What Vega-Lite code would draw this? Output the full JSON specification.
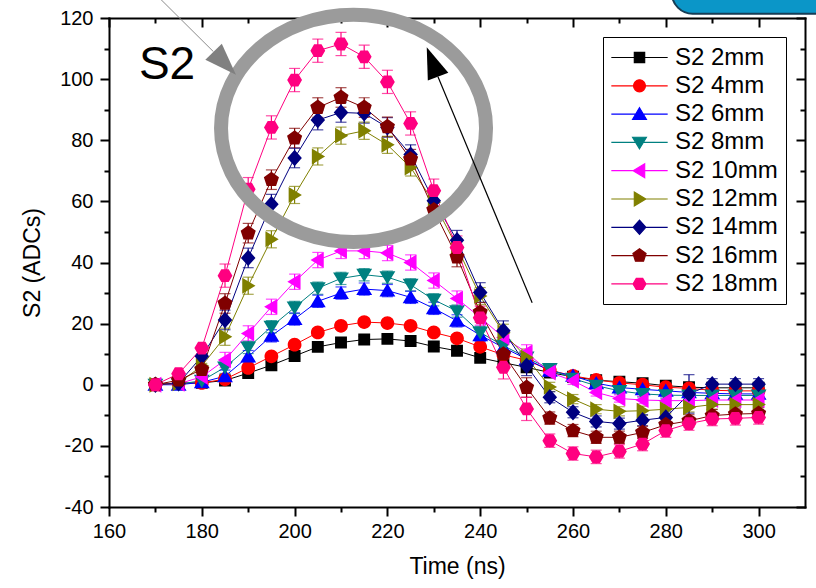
{
  "$schema": "https://vega.github.io/schema/vega-lite/v6.json",
  "width": 696,
  "height": 489,
  "autosize": {"type": "none"},
  "padding": {"left": 109, "top": 18, "right": 11, "bottom": 81},
  "background": "white",
  "config": {
    "view": {"stroke": null},
    "font": "Liberation Sans",
    "axis": {
      "domainColor": "black", "domainWidth": 2, "domainCap": "square",
      "tickColor": "black", "tickWidth": 2, "grid": false,
      "labelFont": "Liberation Sans", "labelFontSize": 20, "labelColor": "black", "labelFlush": false,
      "labelExpr": "datum.value < 0 ? '-' + abs(datum.value) : '' + datum.value",
      "titleFont": "Liberation Sans", "titleFontSize": 23, "titleFontWeight": "normal", "titleColor": "black"
    }
  },
  "datasets": {
    "s2": [
      {"t":170,"s":"S2 2mm","v":0.2,"e":0.6},{"t":175,"s":"S2 2mm","v":0.5,"e":0.6},{"t":180,"s":"S2 2mm","v":0.6,"e":0.8},
      {"t":185,"s":"S2 2mm","v":1.4,"e":1.0},{"t":190,"s":"S2 2mm","v":3.8,"e":1.0},{"t":195,"s":"S2 2mm","v":6.4,"e":1.0},
      {"t":200,"s":"S2 2mm","v":9.4,"e":1.0},{"t":205,"s":"S2 2mm","v":12.4,"e":1.0},{"t":210,"s":"S2 2mm","v":13.8,"e":1.0},
      {"t":215,"s":"S2 2mm","v":14.8,"e":1.0},{"t":220,"s":"S2 2mm","v":15.0,"e":1.0},{"t":225,"s":"S2 2mm","v":14.3,"e":1.0},
      {"t":230,"s":"S2 2mm","v":12.5,"e":1.0},{"t":235,"s":"S2 2mm","v":11.1,"e":1.0},{"t":240,"s":"S2 2mm","v":8.8,"e":1.0},
      {"t":245,"s":"S2 2mm","v":7.2,"e":1.0},{"t":250,"s":"S2 2mm","v":5.7,"e":1.0},{"t":255,"s":"S2 2mm","v":4.0,"e":0.8},
      {"t":260,"s":"S2 2mm","v":2.6,"e":0.8},{"t":265,"s":"S2 2mm","v":1.5,"e":0.8},{"t":270,"s":"S2 2mm","v":1.0,"e":0.8},
      {"t":275,"s":"S2 2mm","v":0.5,"e":0.8},{"t":280,"s":"S2 2mm","v":-0.3,"e":0.8},{"t":285,"s":"S2 2mm","v":-0.8,"e":0.8},
      {"t":290,"s":"S2 2mm","v":-1.0,"e":0.8},{"t":295,"s":"S2 2mm","v":-1.0,"e":0.8},{"t":300,"s":"S2 2mm","v":-1.0,"e":0.8},

      {"t":170,"s":"S2 4mm","v":0.1,"e":0.6},{"t":175,"s":"S2 4mm","v":0.5,"e":0.6},{"t":180,"s":"S2 4mm","v":0.6,"e":0.8},
      {"t":185,"s":"S2 4mm","v":1.8,"e":1.2},{"t":190,"s":"S2 4mm","v":5.5,"e":1.2},{"t":195,"s":"S2 4mm","v":9.3,"e":1.2},
      {"t":200,"s":"S2 4mm","v":13.1,"e":1.2},{"t":205,"s":"S2 4mm","v":17.1,"e":1.2},{"t":210,"s":"S2 4mm","v":19.3,"e":1.2},
      {"t":215,"s":"S2 4mm","v":20.5,"e":1.2},{"t":220,"s":"S2 4mm","v":20.2,"e":1.2},{"t":225,"s":"S2 4mm","v":19.3,"e":1.2},
      {"t":230,"s":"S2 4mm","v":17.1,"e":1.2},{"t":235,"s":"S2 4mm","v":15.2,"e":1.2},{"t":240,"s":"S2 4mm","v":12.4,"e":1.2},
      {"t":245,"s":"S2 4mm","v":9.8,"e":1.2},{"t":250,"s":"S2 4mm","v":8.0,"e":1.2},{"t":255,"s":"S2 4mm","v":4.8,"e":0.8},
      {"t":260,"s":"S2 4mm","v":2.9,"e":0.8},{"t":265,"s":"S2 4mm","v":1.6,"e":0.8},{"t":270,"s":"S2 4mm","v":0.6,"e":0.8},
      {"t":275,"s":"S2 4mm","v":0.0,"e":0.8},{"t":280,"s":"S2 4mm","v":-0.8,"e":0.8},{"t":285,"s":"S2 4mm","v":-1.2,"e":0.8},
      {"t":290,"s":"S2 4mm","v":-1.8,"e":0.8},{"t":295,"s":"S2 4mm","v":-2.0,"e":0.8},{"t":300,"s":"S2 4mm","v":-2.0,"e":0.8},

      {"t":170,"s":"S2 6mm","v":0.0,"e":0.6},{"t":175,"s":"S2 6mm","v":0.0,"e":0.6},{"t":180,"s":"S2 6mm","v":0.8,"e":0.8},
      {"t":185,"s":"S2 6mm","v":2.8,"e":2.0},{"t":190,"s":"S2 6mm","v":9.2,"e":2.0},{"t":195,"s":"S2 6mm","v":16.0,"e":2.0},
      {"t":200,"s":"S2 6mm","v":21.5,"e":2.0},{"t":205,"s":"S2 6mm","v":27.3,"e":2.0},{"t":210,"s":"S2 6mm","v":30.0,"e":2.0},
      {"t":215,"s":"S2 6mm","v":31.3,"e":2.0},{"t":220,"s":"S2 6mm","v":30.8,"e":2.0},{"t":225,"s":"S2 6mm","v":28.6,"e":2.0},
      {"t":230,"s":"S2 6mm","v":25.0,"e":2.0},{"t":235,"s":"S2 6mm","v":20.9,"e":2.0},{"t":240,"s":"S2 6mm","v":16.2,"e":2.0},
      {"t":245,"s":"S2 6mm","v":12.2,"e":2.0},{"t":250,"s":"S2 6mm","v":8.4,"e":2.0},{"t":255,"s":"S2 6mm","v":4.6,"e":1.0},
      {"t":260,"s":"S2 6mm","v":2.9,"e":1.0},{"t":265,"s":"S2 6mm","v":0.5,"e":1.0},{"t":270,"s":"S2 6mm","v":-0.9,"e":1.0},
      {"t":275,"s":"S2 6mm","v":-1.5,"e":1.0},{"t":280,"s":"S2 6mm","v":-2.0,"e":1.0},{"t":285,"s":"S2 6mm","v":-2.5,"e":1.0},
      {"t":290,"s":"S2 6mm","v":-2.8,"e":1.0},{"t":295,"s":"S2 6mm","v":-3.0,"e":1.0},{"t":300,"s":"S2 6mm","v":-3.0,"e":1.0},

      {"t":170,"s":"S2 8mm","v":0.0,"e":0.6},{"t":175,"s":"S2 8mm","v":0.2,"e":0.6},{"t":180,"s":"S2 8mm","v":1.3,"e":0.8},
      {"t":185,"s":"S2 8mm","v":5.7,"e":2.0},{"t":190,"s":"S2 8mm","v":12.2,"e":2.0},{"t":195,"s":"S2 8mm","v":19.0,"e":2.0},
      {"t":200,"s":"S2 8mm","v":25.3,"e":2.0},{"t":205,"s":"S2 8mm","v":31.6,"e":2.0},{"t":210,"s":"S2 8mm","v":34.8,"e":2.0},
      {"t":215,"s":"S2 8mm","v":36.0,"e":2.0},{"t":220,"s":"S2 8mm","v":35.2,"e":2.0},{"t":225,"s":"S2 8mm","v":32.7,"e":2.0},
      {"t":230,"s":"S2 8mm","v":27.8,"e":2.0},{"t":235,"s":"S2 8mm","v":24.1,"e":2.0},{"t":240,"s":"S2 8mm","v":17.1,"e":2.0},
      {"t":245,"s":"S2 8mm","v":12.8,"e":2.0},{"t":250,"s":"S2 8mm","v":8.9,"e":2.0},{"t":255,"s":"S2 8mm","v":5.2,"e":1.0},
      {"t":260,"s":"S2 8mm","v":2.0,"e":1.0},{"t":265,"s":"S2 8mm","v":-0.3,"e":1.0},{"t":270,"s":"S2 8mm","v":-2.0,"e":1.0},
      {"t":275,"s":"S2 8mm","v":-3.0,"e":1.0},{"t":280,"s":"S2 8mm","v":-3.4,"e":1.0},{"t":285,"s":"S2 8mm","v":-3.5,"e":1.0},
      {"t":290,"s":"S2 8mm","v":-3.5,"e":1.0},{"t":295,"s":"S2 8mm","v":-3.5,"e":1.0},{"t":300,"s":"S2 8mm","v":-3.5,"e":1.0},

      {"t":170,"s":"S2 10mm","v":0.0,"e":0.6},{"t":175,"s":"S2 10mm","v":0.3,"e":0.6},{"t":180,"s":"S2 10mm","v":2.6,"e":0.8},
      {"t":185,"s":"S2 10mm","v":8.1,"e":2.5},{"t":190,"s":"S2 10mm","v":16.8,"e":2.5},{"t":195,"s":"S2 10mm","v":25.5,"e":2.5},
      {"t":200,"s":"S2 10mm","v":33.7,"e":2.5},{"t":205,"s":"S2 10mm","v":40.8,"e":2.5},{"t":210,"s":"S2 10mm","v":43.8,"e":2.5},
      {"t":215,"s":"S2 10mm","v":43.8,"e":2.5},{"t":220,"s":"S2 10mm","v":43.1,"e":2.5},{"t":225,"s":"S2 10mm","v":40.0,"e":2.5},
      {"t":230,"s":"S2 10mm","v":34.1,"e":2.5},{"t":235,"s":"S2 10mm","v":28.2,"e":2.5},{"t":240,"s":"S2 10mm","v":22.0,"e":2.5},
      {"t":245,"s":"S2 10mm","v":15.5,"e":2.5},{"t":250,"s":"S2 10mm","v":10.6,"e":2.5},{"t":255,"s":"S2 10mm","v":4.0,"e":1.2},
      {"t":260,"s":"S2 10mm","v":1.3,"e":1.2},{"t":265,"s":"S2 10mm","v":-2.5,"e":1.2},{"t":270,"s":"S2 10mm","v":-4.5,"e":1.2},
      {"t":275,"s":"S2 10mm","v":-5.0,"e":1.2},{"t":280,"s":"S2 10mm","v":-5.2,"e":1.2},{"t":285,"s":"S2 10mm","v":-5.2,"e":1.2},
      {"t":290,"s":"S2 10mm","v":-5.0,"e":1.2},{"t":295,"s":"S2 10mm","v":-5.0,"e":1.2},{"t":300,"s":"S2 10mm","v":-5.0,"e":1.2},

      {"t":170,"s":"S2 12mm","v":0.0,"e":0.6},{"t":175,"s":"S2 12mm","v":0.5,"e":0.6},{"t":180,"s":"S2 12mm","v":6.2,"e":0.8},
      {"t":185,"s":"S2 12mm","v":15.7,"e":2.8},{"t":190,"s":"S2 12mm","v":32.4,"e":2.8},{"t":195,"s":"S2 12mm","v":47.6,"e":2.8},
      {"t":200,"s":"S2 12mm","v":62.1,"e":2.8},{"t":205,"s":"S2 12mm","v":74.7,"e":2.8},{"t":210,"s":"S2 12mm","v":81.5,"e":2.8},
      {"t":215,"s":"S2 12mm","v":83.1,"e":2.8},{"t":220,"s":"S2 12mm","v":78.5,"e":2.8},{"t":225,"s":"S2 12mm","v":71.1,"e":2.8},
      {"t":230,"s":"S2 12mm","v":59.7,"e":2.8},{"t":235,"s":"S2 12mm","v":45.0,"e":2.8},{"t":240,"s":"S2 12mm","v":29.0,"e":2.8},
      {"t":245,"s":"S2 12mm","v":17.0,"e":2.8},{"t":250,"s":"S2 12mm","v":8.9,"e":2.8},{"t":255,"s":"S2 12mm","v":-0.7,"e":1.5},
      {"t":260,"s":"S2 12mm","v":-4.7,"e":1.5},{"t":265,"s":"S2 12mm","v":-8.0,"e":1.5},{"t":270,"s":"S2 12mm","v":-8.7,"e":1.5},
      {"t":275,"s":"S2 12mm","v":-8.5,"e":1.5},{"t":280,"s":"S2 12mm","v":-8.0,"e":1.5},{"t":285,"s":"S2 12mm","v":-7.4,"e":1.5},
      {"t":290,"s":"S2 12mm","v":-6.5,"e":1.5},{"t":295,"s":"S2 12mm","v":-6.5,"e":1.5},{"t":300,"s":"S2 12mm","v":-6.5,"e":1.5},

      {"t":170,"s":"S2 14mm","v":0.0,"e":0.6},{"t":175,"s":"S2 14mm","v":0.5,"e":0.6},{"t":180,"s":"S2 14mm","v":9.3,"e":0.8},
      {"t":185,"s":"S2 14mm","v":21.2,"e":3.2},{"t":190,"s":"S2 14mm","v":41.5,"e":3.2},{"t":195,"s":"S2 14mm","v":59.1,"e":3.2},
      {"t":200,"s":"S2 14mm","v":74.2,"e":3.2},{"t":205,"s":"S2 14mm","v":86.6,"e":3.2},{"t":210,"s":"S2 14mm","v":89.1,"e":3.2},
      {"t":215,"s":"S2 14mm","v":88.8,"e":3.2},{"t":220,"s":"S2 14mm","v":84.2,"e":3.2},{"t":225,"s":"S2 14mm","v":75.3,"e":3.2},
      {"t":230,"s":"S2 14mm","v":60.2,"e":3.2},{"t":235,"s":"S2 14mm","v":47.3,"e":3.2},{"t":240,"s":"S2 14mm","v":30.2,"e":3.2},
      {"t":245,"s":"S2 14mm","v":17.7,"e":3.2},{"t":250,"s":"S2 14mm","v":6.2,"e":3.2},{"t":255,"s":"S2 14mm","v":-4.1,"e":1.8},
      {"t":260,"s":"S2 14mm","v":-9.0,"e":1.8},{"t":265,"s":"S2 14mm","v":-12.0,"e":1.8},{"t":270,"s":"S2 14mm","v":-12.7,"e":1.8},
      {"t":275,"s":"S2 14mm","v":-11.6,"e":1.8},{"t":280,"s":"S2 14mm","v":-10.7,"e":1.8},{"t":285,"s":"S2 14mm","v":-3.0,"e":6.3},
      {"t":290,"s":"S2 14mm","v":0.2,"e":1.8},{"t":295,"s":"S2 14mm","v":0.2,"e":1.8},{"t":300,"s":"S2 14mm","v":0.2,"e":1.8},

      {"t":170,"s":"S2 16mm","v":0.0,"e":0.6},{"t":175,"s":"S2 16mm","v":1.5,"e":0.6},{"t":180,"s":"S2 16mm","v":5.0,"e":0.8},
      {"t":185,"s":"S2 16mm","v":26.6,"e":3.2},{"t":190,"s":"S2 16mm","v":49.6,"e":3.2},{"t":195,"s":"S2 16mm","v":67.1,"e":3.2},
      {"t":200,"s":"S2 16mm","v":80.7,"e":3.2},{"t":205,"s":"S2 16mm","v":90.7,"e":3.2},{"t":210,"s":"S2 16mm","v":94.0,"e":3.2},
      {"t":215,"s":"S2 16mm","v":90.7,"e":3.2},{"t":220,"s":"S2 16mm","v":84.4,"e":3.2},{"t":225,"s":"S2 16mm","v":73.8,"e":3.2},
      {"t":230,"s":"S2 16mm","v":57.2,"e":3.2},{"t":235,"s":"S2 16mm","v":41.8,"e":3.2},{"t":240,"s":"S2 16mm","v":23.7,"e":3.2},
      {"t":245,"s":"S2 16mm","v":10.0,"e":3.2},{"t":250,"s":"S2 16mm","v":-0.9,"e":3.2},{"t":255,"s":"S2 16mm","v":-10.9,"e":2.0},
      {"t":260,"s":"S2 16mm","v":-15.0,"e":2.0},{"t":265,"s":"S2 16mm","v":-17.2,"e":2.0},{"t":270,"s":"S2 16mm","v":-17.2,"e":2.0},
      {"t":275,"s":"S2 16mm","v":-15.6,"e":2.0},{"t":280,"s":"S2 16mm","v":-13.1,"e":2.0},{"t":285,"s":"S2 16mm","v":-11.8,"e":2.0},
      {"t":290,"s":"S2 16mm","v":-10.1,"e":2.0},{"t":295,"s":"S2 16mm","v":-9.6,"e":2.0},{"t":300,"s":"S2 16mm","v":-9.4,"e":2.0},

      {"t":170,"s":"S2 18mm","v":0.0,"e":0.6},{"t":175,"s":"S2 18mm","v":3.6,"e":0.6},{"t":180,"s":"S2 18mm","v":12.0,"e":0.8},
      {"t":185,"s":"S2 18mm","v":35.7,"e":3.8},{"t":190,"s":"S2 18mm","v":64.0,"e":3.8},{"t":195,"s":"S2 18mm","v":84.2,"e":3.8},
      {"t":200,"s":"S2 18mm","v":99.7,"e":3.8},{"t":205,"s":"S2 18mm","v":109.3,"e":3.8},{"t":210,"s":"S2 18mm","v":111.5,"e":3.8},
      {"t":215,"s":"S2 18mm","v":107.3,"e":3.8},{"t":220,"s":"S2 18mm","v":99.1,"e":3.8},{"t":225,"s":"S2 18mm","v":85.5,"e":3.8},
      {"t":230,"s":"S2 18mm","v":63.5,"e":3.8},{"t":235,"s":"S2 18mm","v":44.9,"e":3.8},{"t":240,"s":"S2 18mm","v":21.9,"e":3.8},
      {"t":245,"s":"S2 18mm","v":5.7,"e":3.8},{"t":250,"s":"S2 18mm","v":-7.9,"e":3.8},{"t":255,"s":"S2 18mm","v":-18.3,"e":2.2},
      {"t":260,"s":"S2 18mm","v":-22.5,"e":2.2},{"t":265,"s":"S2 18mm","v":-23.6,"e":2.2},{"t":270,"s":"S2 18mm","v":-21.8,"e":2.2},
      {"t":275,"s":"S2 18mm","v":-19.4,"e":2.2},{"t":280,"s":"S2 18mm","v":-15.0,"e":2.2},{"t":285,"s":"S2 18mm","v":-12.7,"e":2.2},
      {"t":290,"s":"S2 18mm","v":-11.2,"e":2.2},{"t":295,"s":"S2 18mm","v":-11.0,"e":2.2},{"t":300,"s":"S2 18mm","v":-10.7,"e":2.2}
    ],
    "ring": [{"x": 212.7, "y": 83.9}],
    "grayArrow": [{"x": 169.3, "y": 128.9, "o": 0}, {"x": 182.5, "y": 109.0, "o": 1}],
    "grayHead": [{"x": 184.95, "y": 105.2}],
    "blackArrow": [{"x": 251.2, "y": 26.8, "o": 0}, {"x": 230.9, "y": 100.8, "o": 1}],
    "blackHead": [{"x": 229.7, "y": 105.6}],
    "label": [{"x": 172.5, "y": 100.1, "text": "S2"}],
    "badge": [{"x": 281.3, "x2": 320, "y": 121.4, "y2": 135}],
    "frame": [{}]
  },
  "resolve": {"axis": {"x": "independent", "y": "independent"}},
  "layer": [
    {
      "data": {"name": "frame"},
      "mark": {"type": "point", "opacity": 0},
      "encoding": {
        "x": {"datum": 160, "type": "quantitative", "scale": {"domain": [160, 310], "nice": false, "zero": false},
          "axis": {"orient": "bottom", "values": [160, 180, 200, 220, 240, 260, 280, 300], "tickSize": 9, "labelPadding": 5, "title": "Time (ns)", "titlePadding": 14}},
        "y": {"datum": 0, "type": "quantitative", "scale": {"domain": [-40, 120], "nice": false, "zero": false},
          "axis": {"orient": "left", "values": [-40, -20, 0, 20, 40, 60, 80, 100, 120], "tickSize": 9, "labelPadding": 7, "title": "S2 (ADCs)", "titlePadding": 15}}
      }
    },
    {
      "data": {"name": "frame"},
      "mark": {"type": "point", "opacity": 0},
      "encoding": {
        "x": {"datum": 160, "type": "quantitative", "scale": {"domain": [160, 310], "nice": false, "zero": false},
          "axis": {"orient": "bottom", "values": [170, 190, 210, 230, 250, 270, 290], "tickSize": 5, "labels": false, "domain": false, "title": null}},
        "y": {"datum": 0, "type": "quantitative", "scale": {"domain": [-40, 120], "nice": false, "zero": false},
          "axis": {"orient": "left", "values": [-30, -10, 10, 30, 50, 70, 90, 110], "tickSize": 5, "labels": false, "domain": false, "title": null}}
      }
    },
    {
      "data": {"name": "frame"},
      "mark": {"type": "point", "opacity": 0},
      "encoding": {
        "x": {"datum": 160, "type": "quantitative", "scale": {"domain": [160, 310], "nice": false, "zero": false},
          "axis": {"orient": "bottom", "offset": -489, "values": [160, 180, 200, 220, 240, 260, 280, 300], "tickSize": 9, "labels": false, "title": null}},
        "y": {"datum": 0, "type": "quantitative", "scale": {"domain": [-40, 120], "nice": false, "zero": false},
          "axis": {"orient": "left", "offset": -696, "values": [-40, -20, 0, 20, 40, 60, 80, 100, 120], "tickSize": 9, "labels": false, "title": null}}
      }
    },
    {
      "data": {"name": "frame"},
      "mark": {"type": "point", "opacity": 0},
      "encoding": {
        "x": {"datum": 160, "type": "quantitative", "scale": {"domain": [160, 310], "nice": false, "zero": false},
          "axis": {"orient": "bottom", "offset": -489, "values": [170, 190, 210, 230, 250, 270, 290], "tickSize": 5, "labels": false, "domain": false, "title": null}},
        "y": {"datum": 0, "type": "quantitative", "scale": {"domain": [-40, 120], "nice": false, "zero": false},
          "axis": {"orient": "left", "offset": -696, "values": [-30, -10, 10, 30, 50, 70, 90, 110], "tickSize": 5, "labels": false, "domain": false, "title": null}}
      }
    },
    {
      "data": {"name": "badge"},
      "mark": {"type": "rect", "fill": "#0b96c8", "stroke": "#163d55", "strokeWidth": 2, "cornerRadius": 28},
      "encoding": {
        "x": {"field": "x", "type": "quantitative", "axis": null},
        "x2": {"field": "x2"},
        "y": {"field": "y", "type": "quantitative", "axis": null},
        "y2": {"field": "y2"}
      }
    },
    {
      "data": {"name": "s2"},
      "mark": {"type": "line", "strokeWidth": 1},
      "encoding": {
        "x": {"field": "t", "type": "quantitative", "axis": null, "scale": {"domain": [160, 310], "nice": false, "zero": false}},
        "y": {"field": "v", "type": "quantitative", "axis": null, "scale": {"domain": [-40, 120], "nice": false, "zero": false}},
        "color": {"field": "s", "type": "nominal",
          "scale": {"domain": ["S2 2mm", "S2 4mm", "S2 6mm", "S2 8mm", "S2 10mm", "S2 12mm", "S2 14mm", "S2 16mm", "S2 18mm"],
                    "range": ["#000000", "#ff0000", "#0000ff", "#008080", "#ff00ff", "#808000", "#000080", "#800000", "#ff0080"]}}
      }
    },
    {
      "data": {"name": "s2"},
      "mark": {"type": "errorbar", "ticks": {"size": 11}, "thickness": 1.2},
      "encoding": {
        "x": {"field": "t", "type": "quantitative", "axis": null},
        "y": {"field": "v", "type": "quantitative", "axis": null, "title": null},
        "yError": {"field": "e"},
        "color": {"field": "s", "type": "nominal"}
      }
    },
    {
      "data": {"name": "s2"},
      "mark": {"type": "point", "filled": true, "size": 700, "opacity": 1},
      "encoding": {
        "x": {"field": "t", "type": "quantitative", "axis": null},
        "y": {"field": "v", "type": "quantitative", "axis": null},
        "color": {"field": "s", "type": "nominal",
          "legend": {"title": null, "orient": "none", "legendX": 494, "legendY": 19, "direction": "vertical",
            "strokeColor": "black", "fillColor": "white", "padding": 8, "symbolSize": 529, "symbolOffset": 16,
            "labelOffset": 23, "labelFont": "Liberation Sans", "labelFontSize": 24, "labelColor": "black",
            "rowPadding": 3.3, "symbolStrokeWidth": 1.2, "symbolOpacity": 1,
            "encode": {"symbols": {"update": {
              "stroke": {"scale": "color", "field": "value"},
              "strokeWidth": {"value": 1.2},
              "opacity": {"value": 1},
              "fillOpacity": {"value": 1},
              "strokeOpacity": {"value": 1}}}}}},
        "shape": {"field": "s", "type": "nominal",
          "scale": {"domain": ["S2 2mm", "S2 4mm", "S2 6mm", "S2 8mm", "S2 10mm", "S2 12mm", "S2 14mm", "S2 16mm", "S2 18mm"],
            "range": [
              "M-2.45,0H2.45M-0.45,-0.45H0.45V0.45H-0.45Z",
              "M-2.45,0H2.45M0.52,0C0.52,0.287 0.287,0.52 0,0.52C-0.287,0.52 -0.52,0.287 -0.52,0C-0.52,-0.287 -0.287,-0.52 0,-0.52C0.287,-0.52 0.52,-0.287 0.52,0Z",
              "M-2.45,0H2.45M0,-0.55L0.6,0.45L-0.6,0.45Z",
              "M-2.45,0H2.45M0,0.55L0.6,-0.45L-0.6,-0.45Z",
              "M-2.45,0H2.45M-0.55,0L0.45,-0.6L0.45,0.6Z",
              "M-2.45,0H2.45M0.55,0L-0.45,-0.6L-0.45,0.6Z",
              "M-2.45,0H2.45M0,-0.62L0.55,0L0,0.62L-0.55,0Z",
              "M-2.45,0H2.45M0,-0.6L0.571,-0.185L0.353,0.485L-0.353,0.485L-0.571,-0.185Z",
              "M-2.45,0H2.45M0.56,0L0.28,0.485L-0.28,0.485L-0.56,0L-0.28,-0.485L0.28,-0.485Z"
            ]},
          "legend": {"title": null, "orient": "none", "legendX": 494, "legendY": 19, "direction": "vertical",
            "strokeColor": "black", "fillColor": "white", "padding": 8, "symbolSize": 529, "symbolOffset": 16,
            "labelOffset": 23, "labelFont": "Liberation Sans", "labelFontSize": 24, "labelColor": "black",
            "rowPadding": 3.3, "symbolStrokeWidth": 1.2, "symbolOpacity": 1}}
      }
    },
    {
      "data": {"name": "ring"},
      "mark": {"type": "point", "filled": false, "stroke": "#9b9b9b", "strokeWidth": 14, "opacity": 1, "size": 70225,
        "shape": "M1,0C1,0.4734 0.5523,0.857 0,0.857C-0.5523,0.857 -1,0.4734 -1,0C-1,-0.4734 -0.5523,-0.857 0,-0.857C0.5523,-0.857 1,-0.4734 1,0Z"},
      "encoding": {
        "x": {"field": "x", "type": "quantitative", "axis": null},
        "y": {"field": "y", "type": "quantitative", "axis": null}
      }
    },
    {
      "data": {"name": "grayArrow"},
      "mark": {"type": "line", "stroke": "#8a8a8a", "strokeWidth": 1},
      "encoding": {
        "x": {"field": "x", "type": "quantitative", "axis": null},
        "y": {"field": "y", "type": "quantitative", "axis": null},
        "order": {"field": "o"}
      }
    },
    {
      "data": {"name": "grayHead"},
      "mark": {"type": "point", "filled": true, "fill": "#808080", "opacity": 1, "size": 1024, "angle": 135.6,
        "shape": "M0,-1L0.72,1L-0.72,1Z"},
      "encoding": {
        "x": {"field": "x", "type": "quantitative", "axis": null},
        "y": {"field": "y", "type": "quantitative", "axis": null}
      }
    },
    {
      "data": {"name": "blackArrow"},
      "mark": {"type": "line", "stroke": "black", "strokeWidth": 1.2},
      "encoding": {
        "x": {"field": "x", "type": "quantitative", "axis": null},
        "y": {"field": "y", "type": "quantitative", "axis": null},
        "order": {"field": "o"}
      }
    },
    {
      "data": {"name": "blackHead"},
      "mark": {"type": "point", "filled": true, "fill": "black", "opacity": 1, "size": 986, "angle": 338.9,
        "shape": "M0,-1L0.7,1L-0.7,1Z"},
      "encoding": {
        "x": {"field": "x", "type": "quantitative", "axis": null},
        "y": {"field": "y", "type": "quantitative", "axis": null}
      }
    },
    {
      "data": {"name": "label"},
      "mark": {"type": "text", "font": "Liberation Sans", "fontSize": 46, "color": "black", "align": "center", "baseline": "alphabetic"},
      "encoding": {
        "x": {"field": "x", "type": "quantitative", "axis": null},
        "y": {"field": "y", "type": "quantitative", "axis": null},
        "text": {"field": "text"}
      }
    }
  ]
}
